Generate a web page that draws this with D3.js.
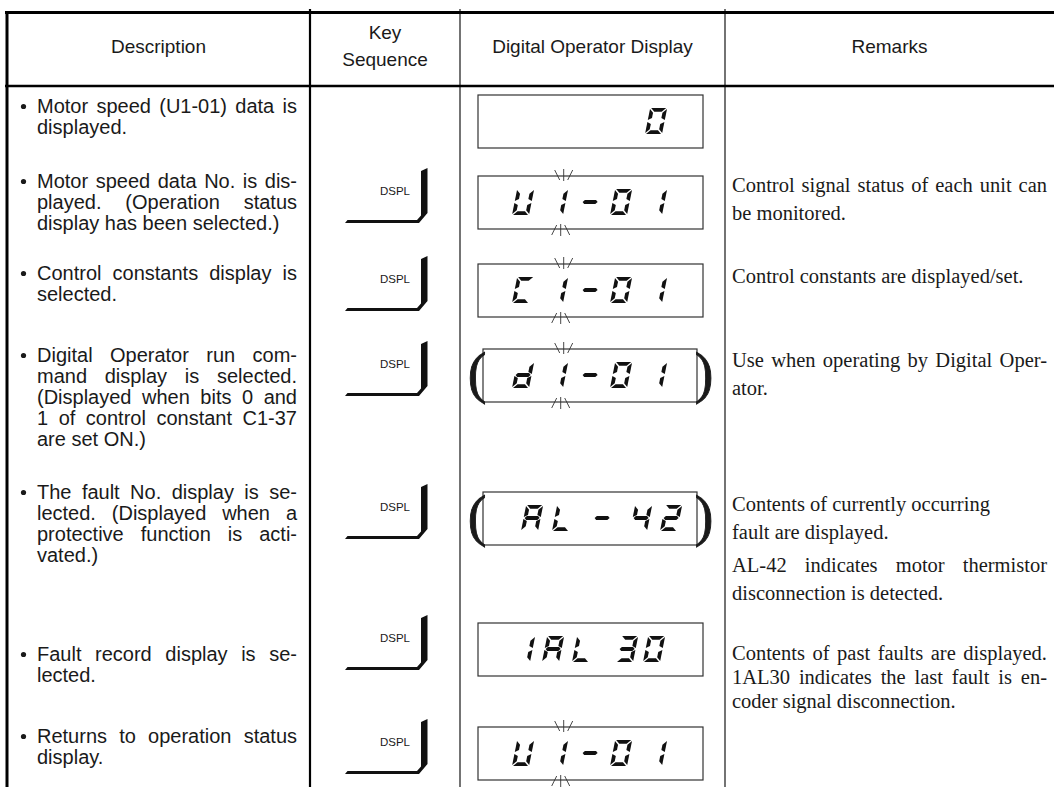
<!DOCTYPE html>
<html><head><meta charset="utf-8">
<script src="https://cdn.jsdelivr.net/npm/d3@7"></script>
<style>html,body{margin:0;padding:0;background:#fff;} svg{display:block;}</style>
</head><body>
<svg id="c" width="1054" height="787"></svg>
<script>
// ---------------- DATA ----------------
const headers = ["Description", ["Key", "Sequence"], "Digital Operator Display", "Remarks"];
const descriptions = [
  ["Motor speed (U1-01) data is", "displayed."],
  ["Motor speed data No. is dis-", "played. (Operation status", "display has been selected.)"],
  ["Control constants display is", "selected."],
  ["Digital Operator run com-", "mand display is selected.", "(Displayed when bits 0 and", "1 of control constant C1-37", "are set ON.)"],
  ["The fault No. display is se-", "lected. (Displayed when a", "protective function is acti-", "vated.)"],
  ["Fault record display is se-", "lected."],
  ["Returns to operation status", "display."]
];
const keys = ["", "DSPL", "DSPL", "DSPL", "DSPL", "DSPL", "DSPL"];
const displays = ["0", "U1-01", "C1-01", "d1-01", "AL-42", "1AL30", "U1-01"];
const blinking = [false, true, true, true, false, false, true];
const bracketed = [false, false, false, true, true, false, false];
const remarks = [
  [],
  [["Control signal status of each unit can", "be monitored."]],
  [["Control constants are displayed/set."]],
  [["Use when operating by Digital Oper-", "ator."]],
  [["Contents of currently occurring", "fault are displayed."], ["AL-42 indicates motor thermistor", "disconnection is detected."]],
  [["Contents of past faults are displayed.", "1AL30 indicates the last fault is en-", "coder signal disconnection."]],
  []
];
const segmentsOf = {"0":"abcdef","1":"bc","2":"abged","3":"abgcd","4":"fgbc","A":"abcefg","L":"def","C":"adef","U":"bcdef","d":"bcdeg","-":"g"};

// ---------------- LAYOUT ----------------
const W = 1054, H = 787;
const colEdges = [7, 310, 460, 725, 1054];
const rowIdx = d3.range(descriptions.length);
const yRow = d3.scaleOrdinal().domain(rowIdx).range([95, 176, 264, 349, 492, 623, 727]);      // box top
const yDesc = d3.scaleOrdinal().domain(rowIdx).range([113, 188, 280, 362, 499, 661, 743]);    // first baseline
const yRem = d3.scaleOrdinal().domain(rowIdx).range([0, 192, 283, 367, 511, 660, 0]);
const remLH = d3.scaleOrdinal().domain(rowIdx).range([28, 28, 28, 28, 28, 24, 28]);
const glyphCells = [
  [645],
  [512, 546, 579, 610, 645],
  [512, 546, 579, 610, 645],
  [512, 546, 579, 610, 645],
  [521, 552, 591, 630, 660],
  [513, 542, 572, 616, 643],
  [512, 546, 579, 610, 645]
];
const SANS = "Liberation Sans, Arial, Helvetica, sans-serif";
const SERIF = "Liberation Serif, Times New Roman, serif";
const INK = "#1a1a1a";

const svg = d3.select("#c");
svg.append("rect").attr("width", W).attr("height", H).attr("fill", "#fff");

function measure(str, family, size) {
  const t = svg.append("text").attr("font-family", family).attr("font-size", size).text(str);
  const w = t.node().getComputedTextLength();
  t.remove();
  return w;
}
function textLine(g, str, x, y, width, family, size, justify) {
  const t = g.append("text").attr("y", y).attr("font-family", family).attr("font-size", size).attr("fill", INK);
  if (!justify) { t.attr("x", x).text(str); return; }
  const words = str.split(" ");
  const ws = words.map(w => measure(w, family, size));
  const gap = (width - d3.sum(ws)) / (words.length - 1);
  let cx = x;
  words.forEach((w, i) => { t.append("tspan").attr("x", cx).text(w); cx += ws[i] + gap; });
}
function paragraph(g, lines, x, y, lh, width, family, size, thr) {
  lines.forEach((ln, i) => {
    const last = i === lines.length - 1;
    const nat = measure(ln, family, size);
    textLine(g, ln, x, y + i * lh, width, family, size, !last && nat / width > thr);
  });
}

// ---------------- GRID ----------------
const grid = svg.append("g").attr("stroke", "#000");
grid.append("line").attr("x1", 5).attr("x2", W).attr("y1", 12.5).attr("y2", 12.5).attr("stroke-width", 3);
grid.append("line").attr("x1", 5).attr("x2", W).attr("y1", 86).attr("y2", 86).attr("stroke-width", 2.5);
grid.append("line").attr("x1", colEdges[0]).attr("x2", colEdges[0]).attr("y1", 11).attr("y2", H).attr("stroke-width", 3);
[1, 2, 3].forEach(i => {
  grid.append("line").attr("x1", colEdges[i]).attr("x2", colEdges[i]).attr("y1", 9).attr("y2", H)
    .attr("stroke-width", i === 1 ? 2.2 : 1.1);
});

// ---------------- HEADERS ----------------
const hg = svg.append("g").attr("font-family", SANS).attr("font-size", 19).attr("fill", INK).attr("text-anchor", "middle");
headers.forEach((h, i) => {
  const cx = (colEdges[i] + colEdges[i + 1]) / 2;
  if (Array.isArray(h)) {
    hg.append("text").attr("x", cx).attr("y", 39).text(h[0]);
    hg.append("text").attr("x", cx).attr("y", 66).text(h[1]);
  } else {
    hg.append("text").attr("x", cx).attr("y", 53).text(h);
  }
});

// ---------------- DESCRIPTIONS ----------------
const dg = svg.append("g");
descriptions.forEach((lines, r) => {
  dg.append("circle").attr("cx", 23.5).attr("cy", yDesc(r) - 6.5).attr("r", 2.6).attr("fill", INK);
  paragraph(dg, lines, 37, yDesc(r), 21, 260, SANS, 20, 0.8);
});

// ---------------- KEYS ----------------
const kg = svg.append("g");
keys.forEach((k, r) => {
  if (!k) return;
  const T = yRow(r);
  kg.append("text").attr("x", 395).attr("y", T + 19).attr("text-anchor", "middle")
    .attr("font-family", SANS).attr("font-size", 11.5).attr("fill", INK).text(k);
  const p = d3.path();
  p.moveTo(421, T - 5); p.lineTo(427.5, T - 8); p.lineTo(427.5, T + 37); p.lineTo(419, T + 47);
  p.lineTo(345, T + 47); p.lineTo(347.5, T + 44); p.lineTo(417, T + 44); p.lineTo(421, T + 39.5); p.closePath();
  kg.append("path").attr("d", p.toString()).attr("fill", "#111");
});

// ---------------- DISPLAYS ----------------
const GW = 17, GH = 26, GT = 3.8, GG = 1, SL = 0.2;
function segPolys() {
  const h2 = GH / 2, t = GT, g = GG, w = GW;
  return {
    a: [[g, 0], [w - g, 0], [w - g - t, t], [g + t, t]],
    d: [[g + t, GH - t], [w - g - t, GH - t], [w - g, GH], [g, GH]],
    g: [[g, h2], [g + t / 2, h2 - t / 2], [w - g - t / 2, h2 - t / 2], [w - g, h2], [w - g - t / 2, h2 + t / 2], [g + t / 2, h2 + t / 2]],
    f: [[0, g], [t, g + t], [t, h2 - g - t / 2], [0, h2 - g]],
    e: [[0, h2 + g], [t, h2 + g + t / 2], [t, GH - g - t], [0, GH - g]],
    b: [[w, g], [w, h2 - g], [w - t, h2 - g - t / 2], [w - t, g + t]],
    c: [[w, h2 + g], [w, GH - g], [w - t, GH - g - t], [w - t, h2 + g + t / 2]]
  };
}
const SP = segPolys();
const line = d3.line();
const og = svg.append("g");
displays.forEach((str, r) => {
  const T = yRow(r);
  const br = bracketed[r];
  const bx0 = br ? 483 : 478, bx1 = br ? 697 : 703;
  og.append("rect").attr("x", bx0).attr("y", T).attr("width", bx1 - bx0).attr("height", 53)
    .attr("fill", "none").attr("stroke", "#333").attr("stroke-width", 1.2);
  if (br) {
    [["(", 477], [")", 704]].forEach(([c, px]) => {
      og.append("text").attr("x", px).attr("y", T + 43).attr("text-anchor", "middle")
        .attr("font-family", SERIF).attr("font-size", 56).attr("fill", INK)
        .attr("stroke", INK).attr("stroke-width", 0.9).text(c);
    });
  }
  const yTop = T + 13;
  str.split("").forEach((ch, i) => {
    const x0 = glyphCells[r][i];
    (segmentsOf[ch] || "").split("").forEach(s => {
      const pts = SP[s].map(([u, v]) => [x0 + u + (GH - v) * SL, yTop + v]);
      og.append("path").attr("d", line(pts) + "Z").attr("fill", "#111");
    });
  });
  if (blinking[r]) {
    const cx = glyphCells[r][1] + GW - GT / 2 + SL * GH / 2;
    const mk = og.append("g").attr("stroke", "#333").attr("stroke-width", 0.9);
    mk.append("line").attr("x1", cx).attr("x2", cx).attr("y1", T - 7).attr("y2", T + 5);
    mk.append("line").attr("x1", cx - 9).attr("x2", cx - 4).attr("y1", T - 6).attr("y2", T + 4);
    mk.append("line").attr("x1", cx + 9).attr("x2", cx + 4).attr("y1", T - 6).attr("y2", T + 4);
    const bx = cx - 3;
    mk.append("line").attr("x1", bx).attr("x2", bx).attr("y1", T + 48).attr("y2", T + 60);
    mk.append("line").attr("x1", bx - 9).attr("x2", bx - 4).attr("y1", T + 59).attr("y2", T + 49);
    mk.append("line").attr("x1", bx + 9).attr("x2", bx + 4).attr("y1", T + 59).attr("y2", T + 49);
  }
});

// ---------------- REMARKS ----------------
const rg = svg.append("g");
remarks.forEach((paras, r) => {
  let y = yRem(r);
  paras.forEach(lines => {
    paragraph(rg, lines, 732, y, remLH(r), 315, SERIF, 20.5, 0.85);
    y += lines.length * remLH(r) + 5;
  });
});
</script>
</body></html>
